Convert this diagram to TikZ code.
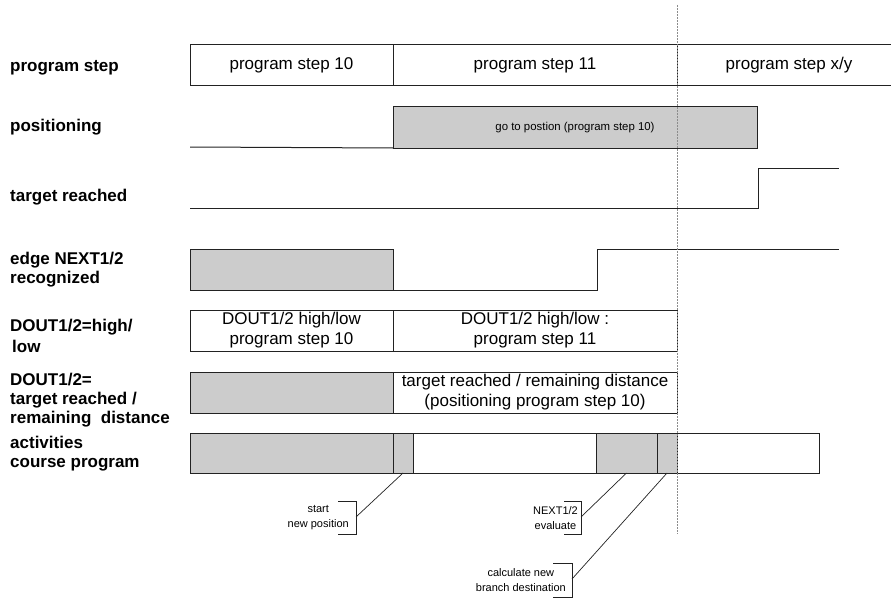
\documentclass[tikz,border=0pt]{standalone}
\usepackage{fontspec}
\setmainfont{Liberation Sans}
\usetikzlibrary{positioning,calc}
\definecolor{edgec}{HTML}{222222}
\definecolor{busyc}{HTML}{CCCCCC}
\definecolor{cursc}{HTML}{8C8C8C}

\begin{document}
\begin{tikzpicture}[
  x=1pt, y=-1pt,
  font=\fontsize{17}{20}\selectfont,
  lbl/.style={anchor=west, align=left, inner sep=0pt,
              font=\bfseries\fontsize{17}{19}\selectfont},
  seg/.style={rectangle, draw=edgec, line width=1pt, anchor=north west,
              minimum height=41pt, inner sep=0pt, outer sep=0pt, align=center},
  busy/.style={seg, fill=busyc},
  sig/.style={draw=edgec, line width=1pt},
  note/.style={anchor=east, align=center, inner sep=0pt,
               font=\fontsize{11}{15}\selectfont},
  lead/.style={draw=edgec, line width=0.7pt},
  brk/.style={draw=edgec, line width=0.7pt},
  cursor/.style={draw=cursc, dash pattern=on 2pt off 1pt, line width=0.7pt},
]
\useasboundingbox (0,0) rectangle (891,599);

% ---- row labels ----
\node[lbl] (lps)  at (10,68)  {program step};
\node[lbl] (lpos) at (10,127) {positioning};
\node[lbl] (ltr)  at (10,197) {target reached};
\node[lbl] (lnx)  at (10,270) {edge NEXT1/2\\recognized};
\node[lbl, font=\bfseries\fontsize{17}{21}\selectfont] (lhl)
  at (10,336) {DOUT1/2=high/\\\hspace{2pt}low};
\node[lbl] (lrd)  at (10,400) {DOUT1/2=\\target reached /\\remaining~~distance};
\node[lbl] (lact) at (10,454) {activities\\course program};

% ---- program step ----
\node[seg, minimum width=203pt] (ps10) at (190,45) {program step 10};
\node[seg, minimum width=284pt] (ps11) at (ps10.north east) {program step 11};
\node (psxy) at (789,65.5) {program step x/y};
\draw[sig] (ps11.north east) -- (891,45);
\draw[sig] (ps11.south east) -- (891,86);

% ---- positioning ----
\node[busy, minimum width=364pt, font=\fontsize{11.4}{14}\selectfont] (goto)
  at (393,107) {go to postion (program step 10)};
\draw[sig] (190,147) -- (goto.south west);

% ---- target reached ----
\draw[sig] (190,208) -| (758,168) -- (839,168);

% ---- edge NEXT1/2 ----
\node[busy, minimum width=203pt] (nx) at (190,249) {};
\draw[sig] (nx.south east) -- (597,290) |- (839,249);

% ---- DOUT1/2 high/low ----
\node[seg, minimum width=203pt] (hl10) at (190,310) {DOUT1/2 high/low\\program step 10};
\node[seg, minimum width=284pt] (hl11) at (hl10.north east) {DOUT1/2 high/low :\\program step 11};

% ---- DOUT1/2 target reached / remaining distance ----
\node[busy, minimum width=203pt] (rd10) at (190,372) {};
\node[seg, minimum width=284pt] (rd11) at (rd10.north east)
  {target reached / remaining distance\\(positioning program step 10)};

% ---- activities ----
\node[busy, minimum width=203pt, minimum height=40pt] (a1) at (190,433) {};
\node[busy, minimum width=20pt, minimum height=40pt] (a2) at (a1.north east) {};
\node[seg, minimum width=183pt, minimum height=40pt] (a3) at (a2.north east) {};
\node[busy, minimum width=61pt, minimum height=40pt] (a4) at (a3.north east) {};
\node[busy, minimum width=20pt, minimum height=40pt] (a5) at (a4.north east) {};
\node[seg, minimum width=142pt, minimum height=40pt] (a6) at (a5.north east) {};

% ---- callouts ----
\coordinate (b1) at (356,517);
\node[note] (nstart) at (349,518) {start\\new position};
\draw[brk] (338,501) -| (356,534) -- (338,534);
\draw[lead] (a2.south) -- (b1);

\coordinate (b2) at (581,517);
\node[note] (neval) at (578,518) {NEXT1/2\\evaluate};
\draw[brk] (564,501) -| (581,534) -- (564,534);
\draw[lead] (a4.south) -- (b2);

\coordinate (b3) at (572,579);
\node[note] (ncalc) at (566,580) {calculate new\\branch destination};
\draw[brk] (553,563) -| (572,597) -- (553,597);
\draw[lead] (a5.south) -- (b3);

% ---- cursor ----
\coordinate (ctop) at (677,5);
\coordinate (cbot) at (677,534);
\draw[cursor] (ctop) -- (cbot);
\end{tikzpicture}
\end{document}
